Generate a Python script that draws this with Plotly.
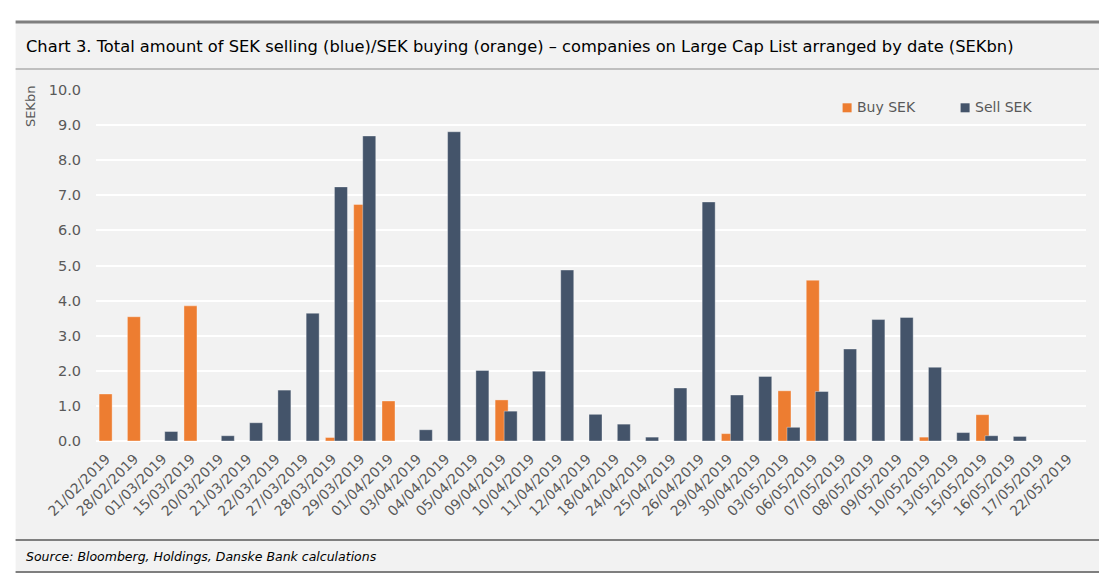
import plotly.graph_objects as go

dates = ["21/02/2019", "28/02/2019", "01/03/2019", "15/03/2019", "20/03/2019",
         "21/03/2019", "22/03/2019", "27/03/2019", "28/03/2019", "29/03/2019",
         "01/04/2019", "03/04/2019", "04/04/2019", "05/04/2019", "09/04/2019",
         "10/04/2019", "11/04/2019", "12/04/2019", "18/04/2019", "24/04/2019",
         "25/04/2019", "26/04/2019", "29/04/2019", "30/04/2019", "03/05/2019",
         "06/05/2019", "07/05/2019", "08/05/2019", "09/05/2019", "10/05/2019",
         "13/05/2019", "15/05/2019", "16/05/2019", "17/05/2019", "22/05/2019"]

buy_sek = [1.34, 3.54, None, 3.85, None, None, None, None, 0.10, 6.74,
           1.14, None, None, None, 1.17, None, None, None, None, None,
           None, None, 0.21, None, 1.43, 4.58, None, None, None, 0.11,
           None, 0.75, None, None, None]

sell_sek = [None, None, 0.27, None, 0.15, 0.52, 1.45, 3.64, 7.24, 8.69,
            None, 0.32, 8.81, 2.01, 0.85, 1.99, 4.87, 0.76, 0.48, 0.11,
            1.51, 6.81, 1.31, 1.84, 0.39, 1.41, 2.62, 3.46, 3.52, 2.10,
            0.24, 0.15, 0.13, None, None]

series_names = ["Buy SEK", "Sell SEK"]
series_colors = ["#ED7D31", "#44546A"]
y_ticks = [0, 1, 2, 3, 4, 5, 6, 7, 8, 9, 10]

# page body has an 8px margin: build the figure 8px smaller and shift coordinates
OFF = 8
W, H = 1107 - OFF, 577 - OFF
L, R, T, B = 96.4 - OFF, 1086.4 - OFF, 90 - OFF, 441 - OFF
FONT = "DejaVu Sans"
GRAY_TXT = "#595959"


def px2x(p):
    return (p - OFF - L) / (R - L)


def py2y(p):
    return (B - (p - OFF)) / (B - T)


fig = go.Figure()
for name, vals, color, off in [(series_names[0], buy_sek, series_colors[0], -0.39),
                               (series_names[1], sell_sek, series_colors[1], -0.07)]:
    fig.add_trace(go.Bar(
        x=dates, y=vals, name=name,
        marker=dict(color=color, line=dict(color="rgba(255,255,255,0.35)", width=1)),
        width=0.46, offset=off, showlegend=False,
    ))

shapes = [
    dict(type="rect", xref="paper", yref="paper", x0=px2x(16), x1=px2x(1100),
         y0=py2y(573), y1=py2y(22), fillcolor="#F2F2F2", line=dict(width=0), layer="below"),
    dict(type="line", xref="paper", yref="paper", x0=px2x(16), x1=px2x(1100),
         y0=py2y(22), y1=py2y(22), line=dict(color="#7F7F7F", width=3)),
    dict(type="line", xref="paper", yref="paper", x0=px2x(16), x1=px2x(1100),
         y0=py2y(69), y1=py2y(69), line=dict(color="#8C8C8C", width=1)),
    dict(type="line", xref="paper", yref="paper", x0=px2x(16), x1=px2x(1100),
         y0=py2y(540), y1=py2y(540), line=dict(color="#7F7F7F", width=2)),
    dict(type="line", xref="paper", yref="paper", x0=px2x(16), x1=px2x(1100),
         y0=py2y(572), y1=py2y(572), line=dict(color="#7F7F7F", width=2)),
]

annotations = [
    dict(text="Chart 3. Total amount of SEK selling (blue)/SEK buying (orange) – companies on Large Cap List arranged by date (SEKbn)",
         xref="paper", yref="paper", x=px2x(24), y=py2y(46), xanchor="left", yanchor="middle",
         showarrow=False, font=dict(family=FONT, size=16.3, color="#000000")),
    dict(text="<i>Source: Bloomberg, Holdings, Danske Bank calculations</i>",
         xref="paper", yref="paper", x=px2x(24), y=py2y(556), xanchor="left", yanchor="middle",
         showarrow=False, font=dict(family=FONT, size=12.5, color="#000000")),
    dict(text="SEKbn", xref="paper", yref="paper", x=px2x(31), y=py2y(84),
         xanchor="center", yanchor="top", textangle=-90, showarrow=False,
         font=dict(family=FONT, size=13, color=GRAY_TXT)),
]

# legend drawn as squares + labels
legend_pos = [(847.5, 855), (965.5, 973)]
for (sq_x, tx), name, color in zip(legend_pos, series_names, series_colors):
    shapes.append(dict(type="rect", xref="paper", yref="paper",
                       x0=px2x(sq_x - 4.5), x1=px2x(sq_x + 4.5),
                       y0=py2y(112.3), y1=py2y(103.3),
                       fillcolor=color, line=dict(width=0)))
    annotations.append(dict(text=name, xref="paper", yref="paper", x=px2x(tx), y=py2y(107),
                            xanchor="left", yanchor="middle", showarrow=False,
                            font=dict(family=FONT, size=14, color=GRAY_TXT)))

fig.update_layout(
    width=W, height=H,
    margin=dict(l=L, r=W - R, t=T, b=H - B, pad=0, autoexpand=False),
    paper_bgcolor="white", plot_bgcolor="#F2F2F2",
    barmode="overlay",
    shapes=shapes, annotations=annotations,
    showlegend=False,
    xaxis=dict(type="category", tickangle=-45, showgrid=False, zeroline=False, showline=False,
               ticks="", tickfont=dict(family=FONT, size=14, color=GRAY_TXT),
               range=[-0.5, len(dates) - 0.5], automargin=False,
               ticklabelstandoff=6, ticklabelshift=-4),
    yaxis=dict(range=[0, 10], tickvals=y_ticks, tickformat=".1f", showgrid=True,
               gridcolor="white", gridwidth=2, zeroline=True, zerolinecolor="white",
               zerolinewidth=2, showline=False, ticks="", ticklabelstandoff=14,
               tickfont=dict(family=FONT, size=14.5, color=GRAY_TXT), automargin=False),
)

fig.write_html("out.html")
